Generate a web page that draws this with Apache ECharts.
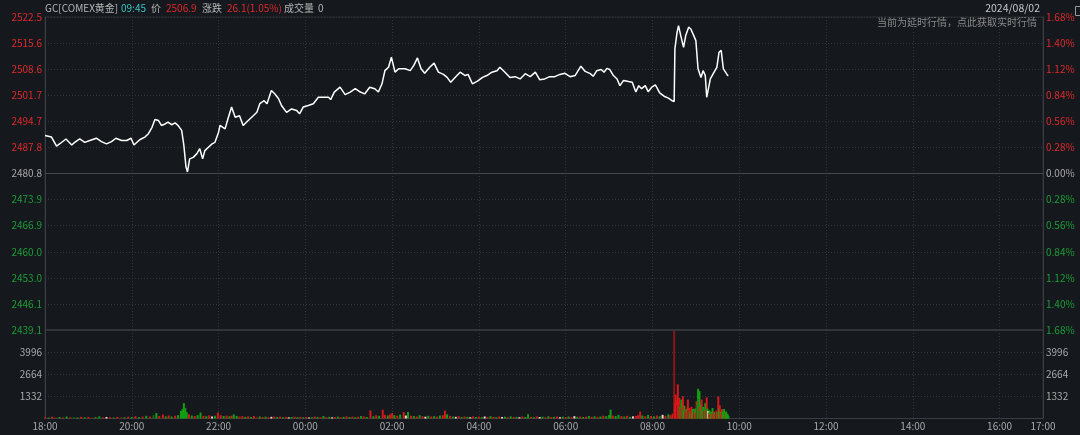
<!DOCTYPE html>
<html>
<head>
<meta charset="utf-8">
<script src="https://cdn.jsdelivr.net/npm/echarts@6/dist/echarts.min.js"></script>
<style>
html,body{margin:0;padding:0;background:#15181d;}
#c{width:1080px;height:435px;}
</style>
</head>
<body>
<div id="c"></div>
<script>
// ---------- data ----------
const prevClose = 2480.8;
const priceMin = 2439.1, priceMax = 2522.5, priceStep = 6.95;
const priceTickLabels = ['2439.1','2446.1','2453.0','2460.0','2466.9','2473.9','2480.8','2487.8','2494.7','2501.7','2508.6','2515.6','2522.5'];
const xTickLabels = ['18:00','20:00','22:00','00:00','02:00','04:00','06:00','08:00','10:00','12:00','14:00','16:00','17:00'];
const volTickLabels = ['1332','2664','3996'];

const priceTimes = ['18:00','18:09','18:16','18:21','18:29','18:37','18:41','18:48','18:55','19:02','19:11','19:18','19:25','19:32','19:38','19:46','19:53','19:59','20:03','20:11','20:18','20:23','20:28','20:32','20:37','20:41','20:46','20:50','20:55','21:00','21:04','21:09','21:12','21:15','21:17','21:20','21:25','21:30','21:34','21:38','21:41','21:46','21:51','21:55','22:00','22:02','22:09','22:13','22:18','22:23','22:29','22:34','22:41','22:48','22:53','22:57','23:03','23:07','23:13','23:18','23:23','23:27','23:34','23:41','23:48','23:52','23:57','00:04','00:11','00:18','00:25','00:32','00:35','00:40','00:48','00:55','01:02','01:09','01:16','01:22','01:29','01:36','01:41','01:46','01:50','01:55','01:59','02:04','02:09','02:11','02:18','02:25','02:30','02:35','02:40','02:45','02:52','02:58','03:04','03:11','03:16','03:21','03:27','03:34','03:41','03:45','03:51','03:58','04:05','04:11','04:18','04:25','04:29','04:36','04:43','04:50','04:57','05:04','05:11','05:18','05:24','05:31','05:38','05:45','05:52','05:59','06:06','06:13','06:21','06:27','06:34','06:38','06:43','06:49','06:53','06:57','07:01','07:06','07:11','07:15','07:20','07:27','07:32','07:37','07:41','07:45','07:50','07:54','07:59','08:04','08:10','08:16','08:22','08:27','08:30','08:31','08:34','08:36','08:39','08:43','08:46','08:50','08:53','08:56','09:00','09:03','09:07','09:10','09:13','09:15','09:20','09:24','09:29','09:32','09:35','09:38','09:41','09:44','09:45'];
const prices = [2490.9,2490.5,2488.1,2488.8,2490.0,2488.4,2489.1,2490.0,2489.1,2489.6,2490.2,2489.3,2488.7,2489.3,2490.2,2489.6,2489.6,2490.2,2488.4,2489.8,2490.5,2491.4,2493.1,2495.2,2494.9,2493.6,2494.0,2494.5,2493.8,2494.3,2493.6,2492.3,2488.3,2482.5,2481.2,2484.7,2485.1,2486.1,2487.4,2484.7,2486.9,2487.8,2488.7,2489.1,2491.8,2493.6,2492.7,2495.4,2498.5,2495.8,2496.2,2493.6,2494.9,2496.2,2497.1,2499.4,2500.2,2499.4,2502.9,2502.0,2500.7,2498.9,2497.1,2498.0,2497.6,2496.7,2498.5,2498.9,2499.4,2501.1,2501.1,2501.1,2500.5,2502.5,2503.8,2501.8,2502.5,2503.4,2502.5,2502.0,2503.8,2503.4,2502.5,2504.7,2508.2,2509.1,2511.8,2507.8,2508.7,2509.1,2508.7,2508.2,2509.6,2511.6,2508.7,2507.5,2509.1,2510.2,2507.8,2507.2,2506.4,2505.1,2506.4,2507.8,2506.9,2507.2,2504.7,2505.4,2506.4,2506.9,2507.8,2508.2,2509.1,2507.8,2506.4,2506.6,2506.0,2507.4,2506.6,2507.8,2505.8,2506.0,2506.6,2506.6,2507.2,2507.5,2506.6,2506.9,2509.4,2508.0,2507.4,2506.7,2508.2,2508.5,2507.8,2508.8,2508.5,2506.9,2506.0,2504.2,2505.6,2505.3,2505.1,2502.5,2504.2,2503.4,2504.2,2502.6,2503.8,2504.4,2502.3,2501.4,2500.9,2500.2,2500.0,2514.0,2518.4,2520.2,2517.6,2514.4,2517.6,2519.8,2519.3,2518.0,2516.2,2508.7,2506.4,2508.2,2506.9,2501.1,2506.0,2507.4,2509.1,2513.1,2513.6,2508.7,2507.8,2506.9,2506.9];

const volTimes = ['18:00','18:05','18:10','18:15','18:20','18:25','18:30','18:35','18:40','18:45','18:50','18:55','19:00','19:05','19:10','19:15','19:20','19:25','19:30','19:35','19:40','19:45','19:50','19:55','20:00','20:05','20:10','20:15','20:20','20:25','20:30','20:34','20:38','20:43','20:47','20:51','20:55','21:00','21:04','21:08','21:10','21:12','21:14','21:16','21:19','21:23','21:27','21:31','21:35','21:39','21:43','21:47','21:51','21:55','21:59','22:03','22:07','22:11','22:15','22:18','22:21','22:25','22:29','22:33','22:37','22:41','22:45','22:49','22:53','22:57','23:01','23:05','23:09','23:13','23:17','23:21','23:25','23:29','23:33','23:37','23:41','23:45','23:49','23:53','23:57','00:01','00:05','00:09','00:13','00:17','00:21','00:25','00:29','00:33','00:37','00:41','00:45','00:49','00:53','00:57','01:01','01:05','01:09','01:13','01:17','01:21','01:25','01:30','01:34','01:38','01:42','01:47','01:50','01:54','01:57','02:00','02:03','02:07','02:11','02:16','02:19','02:22','02:26','02:30','02:34','02:38','02:42','02:46','02:50','02:54','02:58','03:02','03:06','03:10','03:13','03:16','03:20','03:24','03:28','03:32','03:36','03:40','03:44','03:48','03:52','03:56','04:00','04:04','04:08','04:12','04:16','04:20','04:24','04:28','04:32','04:36','04:40','04:44','04:48','04:52','04:56','05:00','05:04','05:08','05:12','05:16','05:20','05:24','05:28','05:32','05:36','05:40','05:44','05:48','05:52','05:56','06:00','06:04','06:08','06:12','06:16','06:20','06:24','06:28','06:32','06:36','06:40','06:44','06:48','06:52','06:56','07:00','07:02','07:05','07:09','07:13','07:17','07:21','07:25','07:29','07:33','07:37','07:40','07:43','07:46','07:50','07:54','07:58','08:02','08:06','08:10','08:14','08:18','08:22','08:25','08:28','08:30','08:31','08:32','08:33','08:34','08:35','08:36','08:37','08:38','08:39','08:40','08:41','08:42','08:43','08:44','08:45','08:46','08:47','08:48','08:49','08:50','08:51','08:52','08:53','08:54','08:55','08:56','08:57','08:58','08:59','09:00','09:01','09:02','09:03','09:04','09:05','09:06','09:07','09:08','09:09','09:10','09:11','09:12','09:13','09:14','09:15','09:16','09:17','09:18','09:19','09:20','09:21','09:22','09:23','09:24','09:25','09:26','09:27','09:28','09:29','09:30','09:31','09:32','09:33','09:34','09:35','09:36','09:37','09:38','09:39','09:40','09:41','09:42','09:43','09:44','09:45'];
const volValues = [90,60,110,70,90,60,120,70,80,60,100,70,90,60,80,130,70,90,80,60,100,80,70,110,90,140,80,110,160,120,200,330,150,240,130,180,120,170,200,450,560,930,620,380,250,180,150,200,360,160,140,190,120,170,360,200,150,180,130,170,250,160,120,140,100,130,90,150,100,120,90,110,80,100,120,90,110,80,100,70,90,110,80,100,70,90,60,80,120,90,70,150,80,100,70,90,110,80,100,130,90,110,80,100,150,120,90,490,140,200,160,530,220,180,250,330,200,160,230,390,180,390,170,150,120,200,140,110,160,120,140,110,180,200,470,250,160,120,100,140,90,120,100,80,130,90,110,80,120,90,140,100,80,120,90,110,80,130,90,100,80,120,90,260,100,80,120,90,110,80,130,90,100,120,80,110,90,120,80,140,100,120,90,110,150,100,130,90,120,170,140,200,530,180,150,220,140,120,160,100,130,150,200,410,180,140,220,150,130,180,140,220,160,250,200,300,5300,900,1440,1100,800,2050,1000,1240,700,900,1140,600,1340,500,770,400,700,570,450,1140,500,630,350,450,700,400,570,300,450,600,350,1040,800,1790,1200,1650,700,900,1140,500,700,450,600,930,500,1270,600,450,350,500,270,400,300,630,300,420,350,280,500,400,300,1330,600,800,400,300,560,350,450,570,300,350,420,250,260,150];
const volColors = ['r','g','r','dr','g','r','g','r','dg','g','r','g','r','dr','g','g','r','w','r','g','r','dr','g','r','g','r','g','r','g','r','dg','g','r','r','g','r','g','r','g','g','g','g','g','g','r','g','r','g','g','r','g','r','w','g','r','r','g','r','g','r','g','g','r','r','g','r','g','r','dr','g','r','g','r','w','r','g','r','g','r','w','g','r','g','r','g','r','w','g','r','g','r','g','r','g','w','r','g','r','g','r','g','r','g','r','g','r','g','r','g','r','g','r','r','g','r','r','g','r','g','r','w','g','r','g','r','g','r','w','g','r','g','r','g','r','r','g','r','g','w','r','g','r','g','w','r','g','r','g','w','r','g','r','g','r','w','g','r','g','r','g','w','r','g','g','r','g','r','w','g','r','g','r','g','r','w','g','r','g','r','w','g','r','g','r','g','r','g','r','g','r','g','g','g','r','g','g','r','g','r','g','w','r','r','r','g','r','g','r','g','r','g','w','r','g','r','r','dr','r','r','r','dr','r','r','r','g','dr','g','r','r','g','g','r','dr','g','r','r','dg','r','g','r','r','g','g','r','dr','g','r','r','dg','g','dg','g','r','g','r','g','g','r','dg','g','r','r','g','w','r','g','r','g','r','g','r','r','g','r','dr','g','r','r','g','r','g','r','r','g','g','g','r','g','g','g','g','g'];

// ---------- styles ----------
const RED = '#e0292b', GREEN = '#1b9e36', GRAY = '#a9a9a9';
const BG = '#15181d';
const volPalette = {r:'#d51a1a', g:'#12a012', dr:'#8a1616', dg:'#0d6b12', w:'#f2d2d2'};
const FONT = "'Noto Sans CJK SC','Noto Sans',sans-serif";
const HFONT = "10px " + FONT;

// axis categories: every minute from 18:00 to 17:00 next day
const minutes = [];
for (let m = 0; m <= 23 * 60; m++) {
  const h = (18 + Math.floor(m / 60)) % 24, mm = m % 60;
  minutes.push(String(h).padStart(2, '0') + ':' + String(mm).padStart(2, '0'));
}
const isTick = (i) => xTickLabels.indexOf(minutes[i]) >= 0;
const isInnerTick = (i) => isTick(i) && i !== 0 && i !== minutes.length - 1;

function priceColor(v) {
  v = parseFloat(v);
  if (v > prevClose + 0.01) return RED;
  if (v < prevClose - 0.01) return GREEN;
  return GRAY;
}
function pctColor(v) {
  v = parseFloat(v);
  if (v > 0.001) return RED;
  if (v < -0.001) return GREEN;
  return GRAY;
}

const chart = echarts.init(document.getElementById('c'), null, {renderer: 'canvas'});

const splitDotted = {show: true, lineStyle: {color: '#30343b', type: [1, 2], width: 1}};
const axisLbl = {margin: 3, fontSize: 10, fontFamily: FONT};

const option = {
  backgroundColor: BG,
  animation: false,
  textStyle: {fontFamily: FONT},
  grid: [
    {left: 45, right: 37, top: 17, height: 313, show: true, borderColor: '#2b2f35', borderWidth: 1, backgroundColor: 'transparent'},
    {left: 45, right: 37, top: 330, height: 88.5, show: true, borderColor: '#2b2f35', borderWidth: 1, backgroundColor: 'transparent'}
  ],
  xAxis: [
    {type: 'category', gridIndex: 0, data: minutes, boundaryGap: false,
     axisLine: {show: false}, axisTick: {show: false}, axisLabel: {show: false},
     splitLine: {show: true, interval: isInnerTick, lineStyle: {color: '#30343b', type: [1, 2]}}},
    {type: 'category', gridIndex: 1, data: minutes, boundaryGap: false,
     axisLine: {show: true, lineStyle: {color: '#3a3d43'}}, axisTick: {show: false},
     axisLabel: Object.assign({show: true, interval: isTick, color: GRAY}, axisLbl),
     splitLine: {show: true, interval: isInnerTick, lineStyle: {color: '#30343b', type: [1, 2]}}}
  ],
  yAxis: [
    {type: 'value', gridIndex: 0, position: 'left', min: priceMin, max: priceMax, interval: priceStep,
     axisLine: {show: true, lineStyle: {color: '#3a3d43'}}, axisTick: {show: false},
     axisLabel: Object.assign({
       formatter: v => priceTickLabels[Math.round((v - priceMin) / priceStep)],
       color: v => priceColor(v)}, axisLbl),
     splitLine: splitDotted},
    {type: 'value', gridIndex: 0, position: 'right', min: -1.68, max: 1.68, interval: 0.28,
     axisLine: {show: true, lineStyle: {color: '#3a3d43'}}, axisTick: {show: false},
     axisLabel: Object.assign({
       formatter: v => Math.abs(v).toFixed(2) + '%',
       color: v => pctColor(v)}, axisLbl),
     splitLine: {show: false}},
    {type: 'value', gridIndex: 1, position: 'left', min: 0, max: 5328, interval: 1332,
     axisLine: {show: true, lineStyle: {color: '#3a3d43'}}, axisTick: {show: false},
     axisLabel: Object.assign({color: GRAY,
       formatter: v => (volTickLabels.indexOf(String(v)) >= 0 ? String(v) : '')}, axisLbl),
     splitLine: splitDotted},
    {type: 'value', gridIndex: 1, position: 'right', min: 0, max: 5328, interval: 1332,
     axisLine: {show: true, lineStyle: {color: '#3a3d43'}}, axisTick: {show: false},
     axisLabel: Object.assign({color: GRAY,
       formatter: v => (volTickLabels.indexOf(String(v)) >= 0 ? String(v) : '')}, axisLbl),
     splitLine: {show: false}}
  ],
  series: [
    {type: 'line', xAxisIndex: 0, yAxisIndex: 0, showSymbol: false, symbol: 'none',
     data: priceTimes.map((t, i) => [t, prices[i]]),
     lineStyle: {color: '#ffffff', width: 1.5}, z: 5,
     markLine: {silent: true, symbol: 'none', label: {show: false},
       lineStyle: {color: '#45484e', type: 'solid', width: 1},
       data: [{yAxis: prevClose}]}},
    {type: 'bar', xAxisIndex: 1, yAxisIndex: 2, barWidth: 2, barMinHeight: 1,
     data: volTimes.map((t, i) => ({value: [t, volValues[i]], itemStyle: {color: volPalette[volColors[i]]}}))}
  ],
  graphic: [
    {type: 'line', shape: {x1: 45, y1: 330, x2: 1043, y2: 330}, style: {stroke: '#3d4046', lineWidth: 1}, silent: true, z: 10},
    {type: 'text', left: 45, top: 3, style: {text: 'GC[COMEX黄金]', fill: '#b5b5b5', font: HFONT}},
    {type: 'text', left: 121, top: 3, style: {text: '09:45', fill: '#3cc4c4', font: HFONT}},
    {type: 'text', left: 151, top: 3, style: {text: '价', fill: '#b5b5b5', font: HFONT}},
    {type: 'text', left: 166, top: 3, style: {text: '2506.9', fill: RED, font: HFONT}},
    {type: 'text', left: 202, top: 3, style: {text: '涨跌', fill: '#b5b5b5', font: HFONT}},
    {type: 'text', left: 227, top: 3, style: {text: '26.1(1.05%)', fill: RED, font: HFONT}},
    {type: 'text', left: 284, top: 3, style: {text: '成交量', fill: '#b5b5b5', font: HFONT}},
    {type: 'text', left: 318, top: 3, style: {text: '0', fill: '#b5b5b5', font: HFONT}},
    {type: 'text', right: 40, top: 3, style: {text: '2024/08/02', fill: '#c8c8c8', font: "10.5px " + FONT}},
    {type: 'text', right: 43, top: 17, style: {text: '当前为延时行情，点此获取实时行情', fill: '#8a8a8a', font: HFONT}},
    {type: 'rect', left: 1073, top: 4, shape: {width: 7, height: 9}, style: {fill: 'none', stroke: '#9a9a9a', lineWidth: 1}}
  ]
};
chart.setOption(option);
</script>
</body>
</html>
